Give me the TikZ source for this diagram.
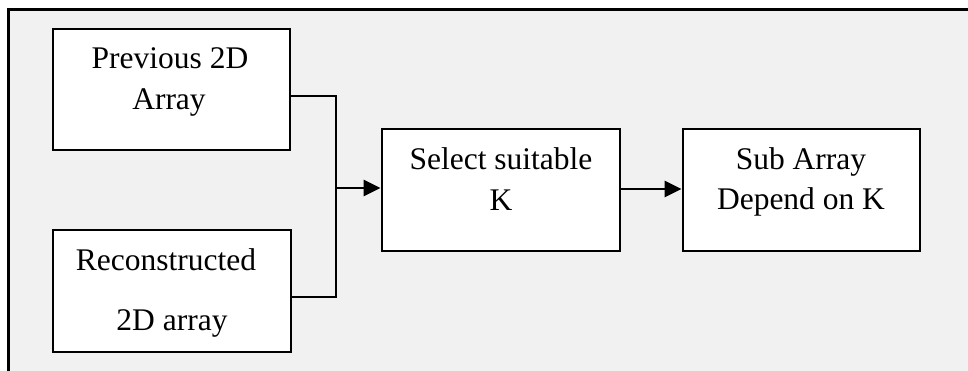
\documentclass[tikz,border=0pt]{standalone}
\usepackage{fontspec}
\setmainfont{Liberation Serif}
\usetikzlibrary{arrows.meta}
\definecolor{bggray}{HTML}{F1F1F1}
\begin{document}
\begin{tikzpicture}[x=1pt,y=-1pt,
  box/.style={draw=black,fill=white,line width=2.8pt,rectangle,inner sep=0pt},
  txt/.style={anchor=base,inner sep=0pt,font=\fontsize{31.5}{38}\selectfont},
  conn/.style={line width=2.8pt},
  arr/.style={line width=2.8pt,-{Triangle[length=17pt,width=16pt]}}]
\useasboundingbox (0,0) rectangle (968,371);
\fill[bggray] (8,10) rectangle (968,371);
\draw[line width=3pt] (8,371) -- (8,10) -- (968,10);
% boxes
\node[box,minimum width=237pt,minimum height=121pt] (prev) at (171.5,89.5) {};
\node[box,minimum width=238pt,minimum height=122pt] (rec) at (172,291) {};
\node[box,minimum width=238pt,minimum height=122pt] (sel) at (501,190) {};
\node[box,minimum width=237pt,minimum height=122pt] (sub) at (801.5,190) {};
% texts
\node[txt] (t1) at (170,69) {Previous 2D};
\node[txt] (t2) at (169,110) {Array};
\node[txt] (t3) at (166,270) {Reconstructed};
\node[txt] (t4) at (172,330) {2D array};
\node[txt] (t5) at (501,170) {Select suitable};
\node[txt] (t6) at (501,211) {K};
\node[txt] (t7) at (801,170) {Sub Array};
\node[txt] (t8) at (801,210) {Depend on K};
% connectors
\coordinate (j) at (336,188);
\draw[conn] (prev.east |- 0,96) -| (j);
\draw[conn] (rec.east |- 0,297) -| (j);
\draw[arr] (j) -- (sel.west |- j);
\draw[arr] (sel.east |- 0,189) -- (sub.west |- 0,189);
\end{tikzpicture}
\end{document}
